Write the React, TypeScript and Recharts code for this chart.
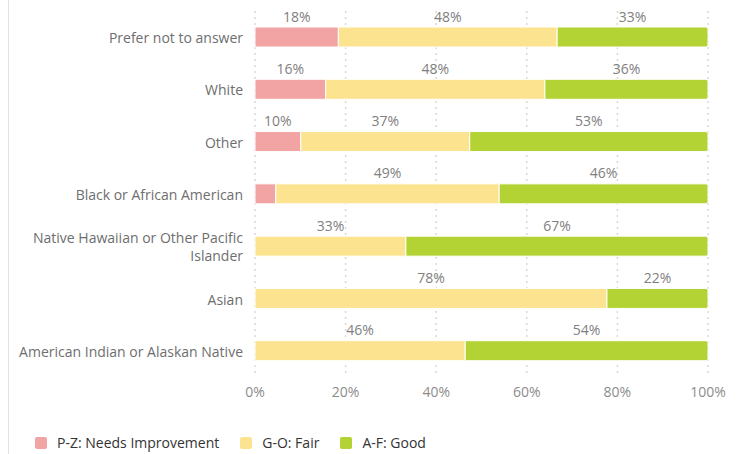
import React from 'react'
import {
  BarChart,
  Bar,
  XAxis,
  YAxis,
  CartesianGrid,
  Legend,
  LabelList,
} from 'recharts'

const categories = [
  'Prefer not to answer',
  'White',
  'Other',
  'Black or African American',
  'Native Hawaiian or Other Pacific Islander',
  'Asian',
  'American Indian or Alaskan Native',
]
const needsImprovement = [18.4, 15.6, 10.1, 4.6, 0, 0, 0]
const fair = [48.3, 48.4, 37.3, 49.3, 33.3, 77.7, 46.4]
const good = [33.3, 36.0, 52.6, 46.1, 66.7, 22.3, 53.6]
const xTicks = [0, 20, 40, 60, 80, 100]

const seriesInfo = [
  { key: 'needs', name: 'P-Z: Needs Improvement', color: '#f2a3a3' },
  { key: 'fair', name: 'G-O: Fair', color: '#fce38f' },
  { key: 'good', name: 'A-F: Good', color: '#b3d335' },
]

const data = categories.map((name, i) => ({
  name,
  needs: needsImprovement[i],
  fair: fair[i],
  good: good[i],
}))

const FONT = '"Open Sans", sans-serif'

function wrapWords(text: string, maxChars: number): string[] {
  const words = text.split(' ')
  const lines: string[] = []
  let cur = ''
  for (const w of words) {
    const next = cur ? cur + ' ' + w : w
    if (next.length > maxChars && cur) {
      lines.push(cur)
      cur = w
    } else {
      cur = next
    }
  }
  if (cur) lines.push(cur)
  return lines
}

function CategoryTick(props: any) {
  const { x, y, payload } = props
  const lines = wrapWords(String(payload.value), 34)
  const lineH = 18
  const startY = y - ((lines.length - 1) * lineH) / 2
  return (
    <text x={x} y={startY} textAnchor="end" fill="#6e6e6e" fontSize={14} fontFamily={FONT} dominantBaseline="central">
      {lines.map((l, i) => (
        <tspan key={i} x={x} y={startY + i * lineH}>
          {l}
        </tspan>
      ))}
    </text>
  )
}

function PercentTick(props: any) {
  const { x, y, payload } = props
  return (
    <text x={x} y={y + 8} textAnchor="middle" dominantBaseline="central" fill="#8c8c8c" fontSize={14} fontFamily={FONT}>
      {`${payload.value}%`}
    </text>
  )
}

function SegmentLabel(props: any) {
  const { x, y, width, value } = props
  if (!value || value < 6) return null
  return (
    <text
      x={x + width / 2}
      y={y - 11}
      textAnchor="middle"
      dominantBaseline="central"
      fill="#808080"
      fontSize={14}
      fontFamily={FONT}
    >
      {`${Math.round(value)}%`}
    </text>
  )
}

function LegendContent() {
  return (
    <div style={{ display: 'flex', gap: 21, fontFamily: FONT, fontSize: 14, color: '#333' }}>
      {seriesInfo.map((s) => (
        <div key={s.key} style={{ display: 'flex', alignItems: 'center' }}>
          <span
            style={{
              display: 'inline-block',
              width: 12,
              height: 12,
              borderRadius: 2,
              background: s.color,
              marginRight: 10,
            }}
          />
          {s.name}
        </div>
      ))}
    </div>
  )
}

export default function App() {
  return (
    <div style={{ position: 'absolute', left: 0, top: 0, width: 745, height: 454, background: '#fff' }}>
      <div style={{ position: 'absolute', left: 8, top: 0, bottom: 0, borderLeft: '1px solid #e2e2e2' }} />
      <BarChart
        width={745}
        height={454}
        data={data}
        layout="vertical"
        margin={{ top: 11, right: 37, left: 0, bottom: 16 }}
        barSize={20}
      >
        <CartesianGrid horizontal={false} stroke="#d9d9d9" strokeDasharray="2 4" strokeWidth={1.5} />
        <XAxis
          type="number"
          domain={[0, 100]}
          ticks={xTicks}
          axisLine={false}
          tickLine={false}
          tick={<PercentTick />}
          height={31}
          tickMargin={0}
        />
        <YAxis
          type="category"
          dataKey="name"
          width={255}
          axisLine={false}
          tickLine={false}
          tick={<CategoryTick />}
          tickMargin={6}
        />
        <Legend
          verticalAlign="bottom"
          align="left"
          height={30}
          content={<LegendContent />}
          wrapperStyle={{ left: 35, top: 433 }}
        />
        {seriesInfo.map((s, i) => (
          <Bar
            key={s.key}
            dataKey={s.key}
            name={s.name}
            stackId="a"
            fill={s.color}
            stroke="#fff"
            strokeWidth={1}
            radius={i === seriesInfo.length - 1 ? [0, 2, 2, 0] : 0}
            isAnimationActive={false}
          >
            <LabelList dataKey={s.key} content={<SegmentLabel />} />
          </Bar>
        ))}
      </BarChart>
    </div>
  )
}
